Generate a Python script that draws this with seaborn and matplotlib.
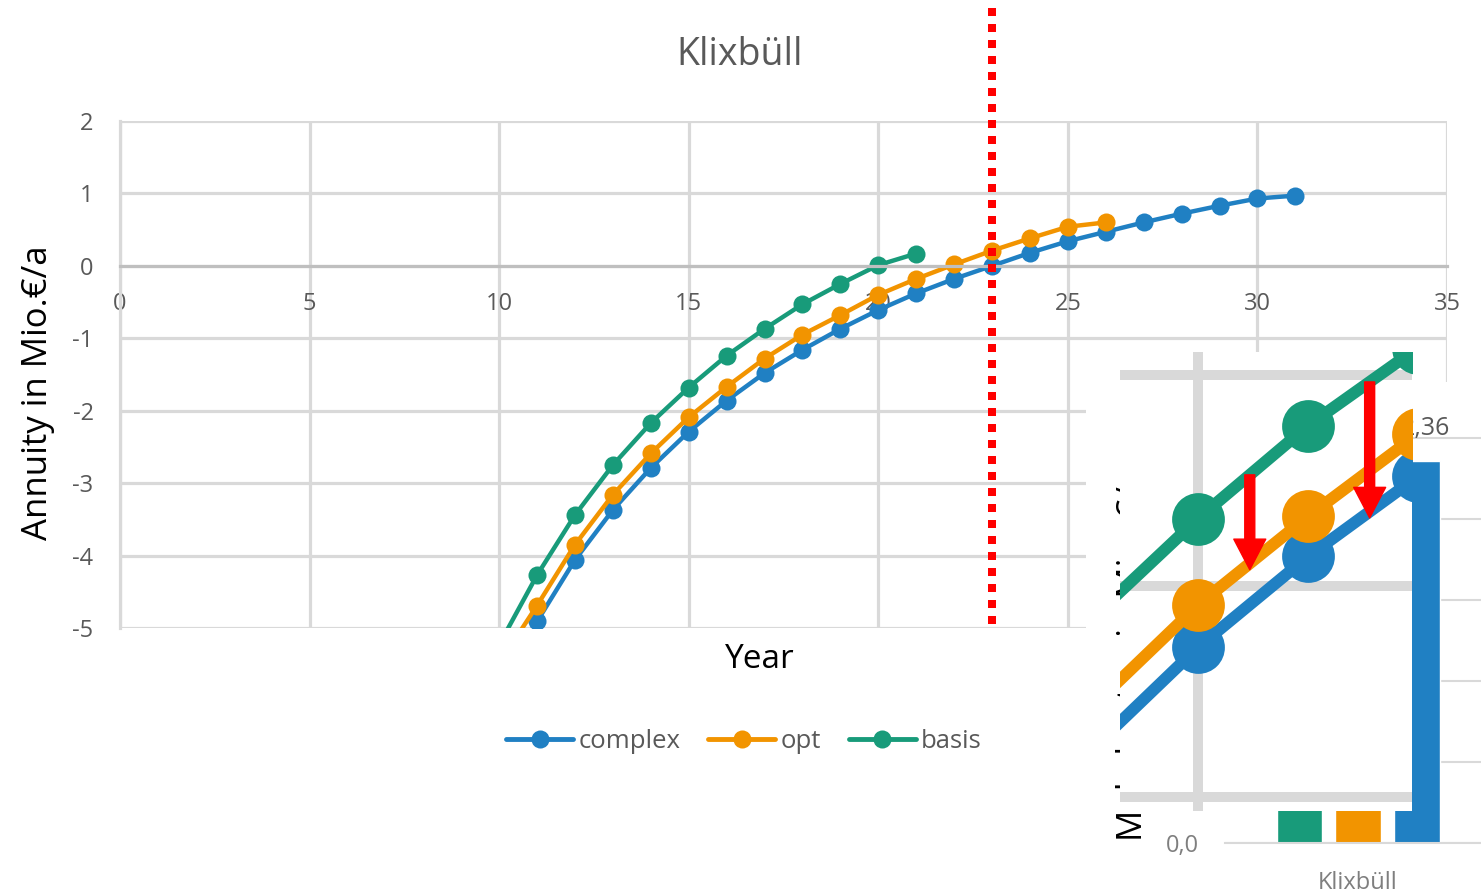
import numpy as np
import pandas as pd
import matplotlib
matplotlib.use("Agg")
import matplotlib.pyplot as plt
import matplotlib.transforms as mtransforms
from matplotlib.lines import Line2D
from matplotlib.patches import Rectangle, FancyArrowPatch, ArrowStyle
from matplotlib.ticker import FuncFormatter
import seaborn as sns

# ---------------------------------------------------------------- data
years = list(range(10, 32))
complex_vals = [-5.76, -4.91, -4.06, -3.37, -2.79, -2.29, -1.86, -1.48, -1.16, -0.87,
                -0.61, -0.38, -0.18, 0.00, 0.18, 0.34, 0.47, 0.60, 0.72, 0.83, 0.93, 0.97]
opt_vals = [-5.49, -4.69, -3.85, -3.16, -2.59, -2.09, -1.67, -1.28, -0.95, -0.68,
            -0.40, -0.18, 0.02, 0.21, 0.38, 0.54, 0.60,
            np.nan, np.nan, np.nan, np.nan, np.nan]
basis_vals = [-5.23, -4.27, -3.44, -2.75, -2.17, -1.68, -1.24, -0.87, -0.53, -0.25,
              0.01, 0.17,
              np.nan, np.nan, np.nan, np.nan, np.nan, np.nan, np.nan, np.nan, np.nan, np.nan]
variants = ["complex", "opt", "basis"]
cutoff_year = 23

# bar chart fragment (extra costs per site)
bar_site = ["Klixbüll"]
bar_variants = ["basis", "opt", "complex"]
bar_values = [1.62, 1.95, 2.36]

site_title = "Klixbüll"
x_label = "Year"
y_label = "Annuity in Mio.€/a"
bar_y_label = "Mehrkosten in Mio. €/a"

# ---------------------------------------------------------------- style
sns.set_theme(style="white")
plt.rcParams["font.family"] = ["Open Sans", "DejaVu Sans"]
plt.rcParams["axes.unicode_minus"] = False

colors = {"complex": "#2080C3", "opt": "#F29400", "basis": "#189B7A"}
grid_c = "#D9D9D9"
text_c = "#595959"

W, H = 1481, 893


def fx(px):
    return px / W


def fy(py):
    return 1 - py / H


fig = plt.figure(figsize=(W / 100, H / 100), dpi=100, facecolor="white")

df = pd.DataFrame({"year": years, "complex": complex_vals,
                   "opt": opt_vals, "basis": basis_vals})
long = df.melt(id_vars="year", var_name="variant", value_name="annuity").dropna()

# ---------------------------------------------------------------- main chart
ax = fig.add_axes([fx(120), fy(628), fx(1447) - fx(120), fy(121) - fy(628)], zorder=0)
ax.set_facecolor("white")
sns.lineplot(data=long, x="year", y="annuity", hue="variant", hue_order=variants,
             palette=colors, marker="o", markersize=13, markeredgewidth=0,
             linewidth=3.2, errorbar=None, legend=False, ax=ax)
ax.set_xticks(range(0, 36, 5))
ax.set_yticks(range(-5, 3))
ax.set_xlim(0, 35)
ax.set_ylim(-5, 2)
ax.grid(True, color=grid_c, linewidth=2.3)
ax.set_axisbelow(True)
for s in ("top", "right"):
    ax.spines[s].set_visible(False)
ax.spines["left"].set_color(grid_c)
ax.spines["left"].set_linewidth(2.3)
ax.spines["bottom"].set_position(("data", 0))
ax.spines["bottom"].set_color("#BFBFBF")
ax.spines["bottom"].set_linewidth(2.3)
ax.tick_params(axis="both", length=0, labelsize=17, labelcolor=text_c)
ax.tick_params(axis="x", pad=19)
ax.tick_params(axis="y", pad=19)
ax.set_xlabel("")
ax.set_ylabel("")

# break-even marker
trans = mtransforms.blended_transform_factory(ax.transData, ax.transAxes)
ax.plot([cutoff_year, cutoff_year], [1.2229, 0.0079], transform=trans, color="#FF0000",
        linewidth=5.76, linestyle=(0, (1, 1)), dash_capstyle="butt",
        clip_on=False, zorder=6)

fig.text(fx(740), fy(55), site_title, ha="center", va="center", fontsize=27, color=text_c)
fig.text(fx(760), fy(660), x_label, ha="center", va="center", fontsize=24, color="black")
fig.text(fx(38), fy(393), y_label, ha="center", va="center", rotation=90,
         fontsize=25, color="black")

handles = [Line2D([0], [0], color=colors[v], linewidth=3.5, marker="o",
                  markersize=13, markeredgewidth=0) for v in variants]
fig.legend(handles, variants, loc="center", bbox_to_anchor=(fx(744), fy(741)),
           ncol=3, frameon=False, fontsize=18.5, handlelength=2.6, handletextpad=0.2,
           columnspacing=1.1, labelcolor=text_c)

# ---------------------------------------------------------------- bar chart fragment
fig.add_artist(Rectangle((fx(1086), 0), 1 - fx(1086), fy(382), transform=fig.transFigure,
                         facecolor="white", edgecolor="none", zorder=1))

axB = fig.add_axes([fx(1225), fy(843), 1 - fx(1225), fy(382) - fy(843)], zorder=2)
axB.patch.set_alpha(0)
bar_df = pd.DataFrame({"site": bar_site * 3, "variant": bar_variants, "value": bar_values})
sns.barplot(data=bar_df, x="site", y="value", hue="variant", hue_order=bar_variants,
            palette=colors, saturation=1, width=0.8, gap=0.22, legend=False, ax=axB)
axB.set_yticks(np.arange(0, 2.6, 0.5))
axB.set_xlim(-0.605, 0.559)
axB.set_ylim(0, 2.846)
axB.yaxis.set_major_formatter(FuncFormatter(lambda v, p: f"{v:.1f}".replace(".", ",")))
axB.grid(True, axis="y", color=grid_c, linewidth=1.5)
axB.set_axisbelow(True)
for s in ("top", "right", "left"):
    axB.spines[s].set_visible(False)
axB.spines["bottom"].set_color(grid_c)
axB.spines["bottom"].set_linewidth(1.5)
axB.tick_params(axis="both", length=0, labelsize=17, labelcolor="#7F7F7F")
axB.tick_params(axis="x", pad=20)
axB.tick_params(axis="y", pad=19)
axB.set_xlabel("")
axB.set_ylabel("")
for cont in axB.containers:
    for t in axB.bar_label(cont, labels=[f"{v:.2f}".replace(".", ",") for v in cont.datavalues],
                           padding=14, fontsize=18, color=text_c):
        t.xyann = (6, 14)

fig.text(fx(1133), fy(841), bar_y_label, ha="center", va="bottom", rotation=90,
         fontsize=25, color="black", zorder=1.5)

# ---------------------------------------------------------------- magnified detail
axA = fig.add_axes([fx(1120), fy(811), fx(1412) - fx(1120), fy(352) - fy(811)], zorder=4)
axA.set_facecolor("white")
sns.lineplot(data=long, x="year", y="annuity", hue="variant", hue_order=variants,
             palette=colors, marker="o", markersize=38, markeredgewidth=0,
             linewidth=8.6, errorbar=None, legend=False, ax=axA)
axA.set_xticks([15])
axA.set_yticks([-3, -2, -1])
axA.grid(True, color=grid_c, linewidth=7.2)
axA.set_axisbelow(True)
for s in axA.spines.values():
    s.set_visible(False)
axA.tick_params(length=0, labelleft=False, labelbottom=False)
axA.set_xlabel("")
axA.set_ylabel("")

# arrows from the basis curve down to the other variants
arrow_style = ArrowStyle.Simple(head_length=22, head_width=23, tail_width=7.2)
for x_pos, target in ((15.47, opt_vals), (16.56, complex_vals)):
    y_start = np.interp(x_pos, years[:12], basis_vals[:12])
    y_end = np.interp(x_pos, years[:17], target[:17]) - 0.03
    axA.add_patch(FancyArrowPatch((x_pos, y_start), (x_pos, y_end), arrowstyle=arrow_style,
                                  mutation_scale=1, color="#FF0000", shrinkA=0, shrinkB=0,
                                  zorder=5))
axA.set_xlim(14.29, 16.945)
axA.set_ylim(-3.066, -0.891)

fig.savefig("out.png", dpi=100, facecolor="white")
